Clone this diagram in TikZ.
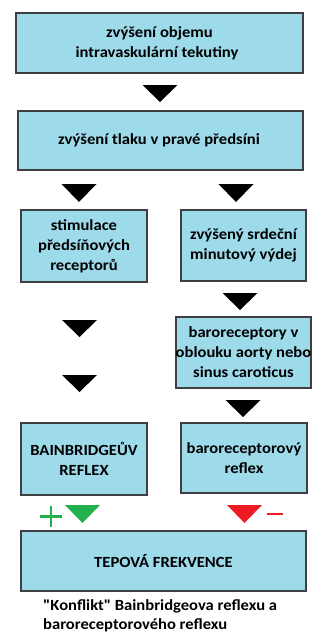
\documentclass[tikz,border=0pt]{standalone}
\usepackage{fontspec}
\setmainfont{Carlito}[Ligatures=TeXOff,FakeStretch=1.07]
\definecolor{boxfill}{HTML}{9DDAEA}
\definecolor{boxline}{HTML}{3F3F3F}
\definecolor{plusgreen}{HTML}{22B14C}
\definecolor{minusred}{HTML}{ED1C24}
\begin{document}
\begin{tikzpicture}[x=1pt,y=-1pt,
  box/.style={draw=boxline,line width=1.6pt,fill=boxfill,rectangle,inner sep=0pt,
    align=center,font=\fontsize{15.5}{20}\selectfont\bfseries},
]
\useasboundingbox (0,0) rectangle (322,633);
% boxes
\node[box,minimum width=287pt,minimum height=60pt] (b1) at (159.5,43) {zvýšení objemu\\intravaskulární tekutiny\hspace*{5pt}};
\node[box,minimum width=285pt,minimum height=59pt] (b2) at (160.5,140.5) {zvýšení tlaku v pravé předsíni\hspace*{3pt}};
\node[box,minimum width=126pt,minimum height=72pt] (b3) at (84,246) {stimulace\\předsíňových\\receptorů};
\node[box,minimum width=125pt,minimum height=71pt] (b4) at (243.5,245.5) {zvýšený srdeční\\minutový výdej};
\node[box,minimum width=125pt,minimum height=71pt] (b5) at (243.5,352.5) {baroreceptory v\\oblouku aorty nebo\\sinus caroticus};
\node[box,minimum width=126pt,minimum height=72pt] (b6) at (84,459) {BAINBRIDGEŮV\\REFLEX};
\node[box,minimum width=126pt,minimum height=70pt] (b7) at (244,458) {baroreceptorový\\reflex};
\node[box,minimum width=285pt,minimum height=60pt] (b8) at (163.5,561) {TEPOVÁ FREKVENCE};
% arrow triangles
\newcommand\downtri[4][black]{\fill[#1] (#2-17.5,#3) -- (#2+17.5,#3) -- (#2,#3+#4) -- cycle;}
\downtri{160}{85}{17}
\downtri{79}{184}{18}
\downtri{236}{184}{18}
\downtri{240}{293}{17}
\downtri{79.5}{320}{17}
\downtri{79.5}{375}{17}
\downtri{243}{400}{17}
\downtri[plusgreen]{82.5}{505}{18}
\downtri[minusred]{244.5}{505}{18}
% plus and minus signs
\draw[plusgreen,line width=2.4pt] (40,516.5) -- (62,516.5) (51,506) -- (51,527);
\draw[minusred,line width=2pt] (267,514) -- (283,514);
% caption
\node[anchor=north west,align=left,inner sep=0pt,font=\fontsize{15.5}{18.5}\selectfont\bfseries] (cap) at (43,599.5)
  {"Konflikt" Bainbridgeova reflexu a\\baroreceptorového reflexu};
\end{tikzpicture}
\end{document}
